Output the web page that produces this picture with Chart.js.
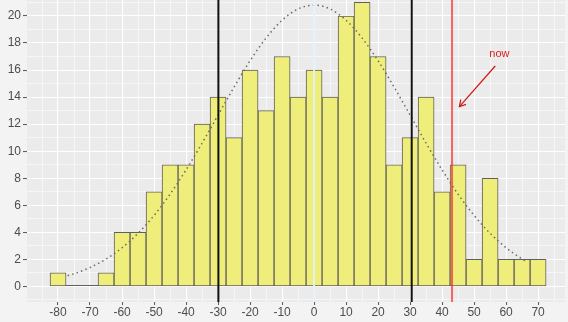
<!DOCTYPE html>
<html><head><meta charset="utf-8">
<script src="https://cdn.jsdelivr.net/npm/chart.js@4/dist/chart.umd.min.js"></script>
<style>html,body{margin:0;padding:0;background:#F3F3F3;}#wrap{width:568px;height:322px;}</style>
</head><body><div id="wrap"><canvas id="c" width="568" height="322"></canvas></div>
<script>
// histogram bins (bin width 5)
const binCenters = [-80,-75,-70,-65,-60,-55,-50,-45,-40,-35,-30,-25,-20,-15,-10,-5,0,5,10,15,20,25,30,35,40,45,50,55,60,65,70];
const counts     = [1,0,0,1,4,4,7,9,9,12,14,11,16,13,17,14,16,14,20,21,17,9,11,14,7,9,2,8,2,2,2];
// dotted density curve
const curveX = [-77,-75,-70,-65,-60,-55,-50,-45,-40,-35,-30,-25,-20,-15,-10,-5,0,5,10,15,20,25,30,35,40,45,50,55,60,65,66];
const curveY = [0.79,0.94,1.40,2.03,2.86,3.93,5.25,6.82,8.62,10.59,12.67,14.74,16.69,18.37,19.68,20.52,20.80,20.52,19.68,18.37,16.69,14.74,12.67,10.59,8.62,6.82,5.25,3.93,2.86,2.03,1.89];
// vertical markers
const sdLines = [-29.9, 30.5];
const zeroLine = 0;
const nowValue = 43.1;
const nowLabel = 'now';
const nowArrowFrom = [56.6, 16.3];
const nowArrowTo = [45.4, 13.3];
const nowTextAt = [57.9, 17.2];
const binWidth = 5;

const FONT = {family: "'Liberation Sans', Arial, sans-serif", size: 12};

const bgPlugin = {
  id: 'bg',
  beforeDraw(chart) {
    const {ctx, chartArea: a} = chart;
    ctx.save();
    ctx.fillStyle = '#EBEBEB';
    ctx.fillRect(a.left, a.top, a.right - a.left, a.bottom - a.top);
    ctx.restore();
  },
  beforeDatasetsDraw(chart) {
    const {ctx, scales: {x, y}} = chart;
    ctx.save();
    ctx.strokeStyle = '#5F5F5F';
    ctx.lineWidth = 1;
    counts.forEach((c, i) => {
      if (c === 0) {
        const y0 = Math.round(y.getPixelForValue(0)) - 0.5;
        ctx.beginPath();
        ctx.moveTo(x.getPixelForValue(binCenters[i] - binWidth / 2), y0);
        ctx.lineTo(x.getPixelForValue(binCenters[i] + binWidth / 2), y0);
        ctx.stroke();
      }
    });
    ctx.restore();
  }
};

const overlayPlugin = {
  id: 'overlay',
  afterDatasetsDraw(chart) {
    const {ctx, chartArea: a, scales: {x, y}} = chart;
    ctx.save();
    ctx.beginPath();
    ctx.rect(a.left, a.top, a.right - a.left, a.bottom - a.top);
    ctx.clip();
    const vline = (v, color, w) => {
      const px = x.getPixelForValue(v);
      ctx.strokeStyle = color; ctx.lineWidth = w;
      ctx.beginPath(); ctx.moveTo(px, a.top); ctx.lineTo(px, a.bottom); ctx.stroke();
    };
    vline(zeroLine, '#E4F2FE', 1.8);
    sdLines.forEach(v => vline(v, '#111111', 2));
    vline(nowValue, 'rgba(255,40,40,0.7)', 2);
    // arrow
    const x1 = x.getPixelForValue(nowArrowFrom[0]), y1 = y.getPixelForValue(nowArrowFrom[1]);
    const x2 = x.getPixelForValue(nowArrowTo[0]), y2 = y.getPixelForValue(nowArrowTo[1]);
    ctx.strokeStyle = '#D01515'; ctx.lineWidth = 1.2;
    ctx.beginPath(); ctx.moveTo(x1, y1); ctx.lineTo(x2, y2); ctx.stroke();
    const ang = Math.atan2(y2 - y1, x2 - x1), L = 7, sp = Math.PI / 6;
    ctx.beginPath();
    ctx.moveTo(x2 - L * Math.cos(ang - sp), y2 - L * Math.sin(ang - sp));
    ctx.lineTo(x2, y2);
    ctx.lineTo(x2 - L * Math.cos(ang + sp), y2 - L * Math.sin(ang + sp));
    ctx.stroke();
    ctx.fillStyle = '#D82020';
    ctx.font = "11px 'Liberation Sans', Arial, sans-serif";
    ctx.textAlign = 'center'; ctx.textBaseline = 'middle';
    ctx.fillText(nowLabel, x.getPixelForValue(nowTextAt[0]), y.getPixelForValue(nowTextAt[1]));
    ctx.restore();
  }
};

const isMajorX = v => Math.abs(v % 10) < 1e-6;
const isMajorY = v => Math.abs(v % 2) < 1e-6;

new Chart(document.getElementById('c'), {
  data: {
    datasets: [
      {
        type: 'line', order: 0,
        data: curveX.map((v, i) => ({x: v, y: curveY[i]})),
        borderColor: '#6A6A6A', borderWidth: 1.5, borderDash: [1.5, 3.2],
        pointRadius: 0, fill: false, cubicInterpolationMode: 'monotone'
      },
      {
        type: 'bar', order: 1,
        data: binCenters.map((v, i) => ({x: v, y: counts[i]})),
        backgroundColor: '#EFEE7A', borderColor: '#5F5F5F', borderWidth: 1,
        borderSkipped: false, barPercentage: 1, categoryPercentage: 1
      }
    ]
  },
  options: {
    responsive: false, animation: false,
    layout: {padding: {top: 0, right: 3, bottom: 0, left: 0}},
    plugins: {legend: {display: false}, tooltip: {enabled: false}},
    scales: {
      x: {
        type: 'linear', min: -89.7, max: 78.4, offset: false,
        border: {display: false},
        ticks: {
          stepSize: 5, autoSkip: false, maxRotation: 0, minRotation: 0, includeBounds: false,
          callback: v => isMajorX(v) ? String(v) : '',
          color: '#4D4D4D', font: FONT, padding: 0
        },
        grid: {
          offset: false,
          color: '#FFFFFF',
          lineWidth: c => (c.tick && isMajorX(c.tick.value)) ? 1.1 : 0.55,
          tickLength: 3, tickWidth: 1,
          tickColor: c => (c.tick && isMajorX(c.tick.value)) ? '#555555' : 'rgba(0,0,0,0)'
        },
        afterFit(s) { s.height = 20; s.paddingLeft = 0; s.paddingRight = 0; }
      },
      y: {
        type: 'linear', min: -1.15, max: 21.18,
        border: {display: false},
        ticks: {
          stepSize: 1, autoSkip: false, includeBounds: false,
          callback: v => isMajorY(v) ? String(v) : '',
          color: '#4D4D4D', font: FONT, padding: 2
        },
        grid: {
          color: '#FFFFFF',
          lineWidth: c => (c.tick && isMajorY(c.tick.value)) ? 1.1 : 0.55,
          tickLength: 4, tickWidth: 1,
          tickColor: c => (c.tick && isMajorY(c.tick.value)) ? '#555555' : 'rgba(0,0,0,0)'
        },
        afterFit(s) { s.width = 27; s.paddingTop = 0; s.paddingBottom = 0; }
      }
    }
  },
  plugins: [bgPlugin, overlayPlugin]
});
</script>
</body></html>
